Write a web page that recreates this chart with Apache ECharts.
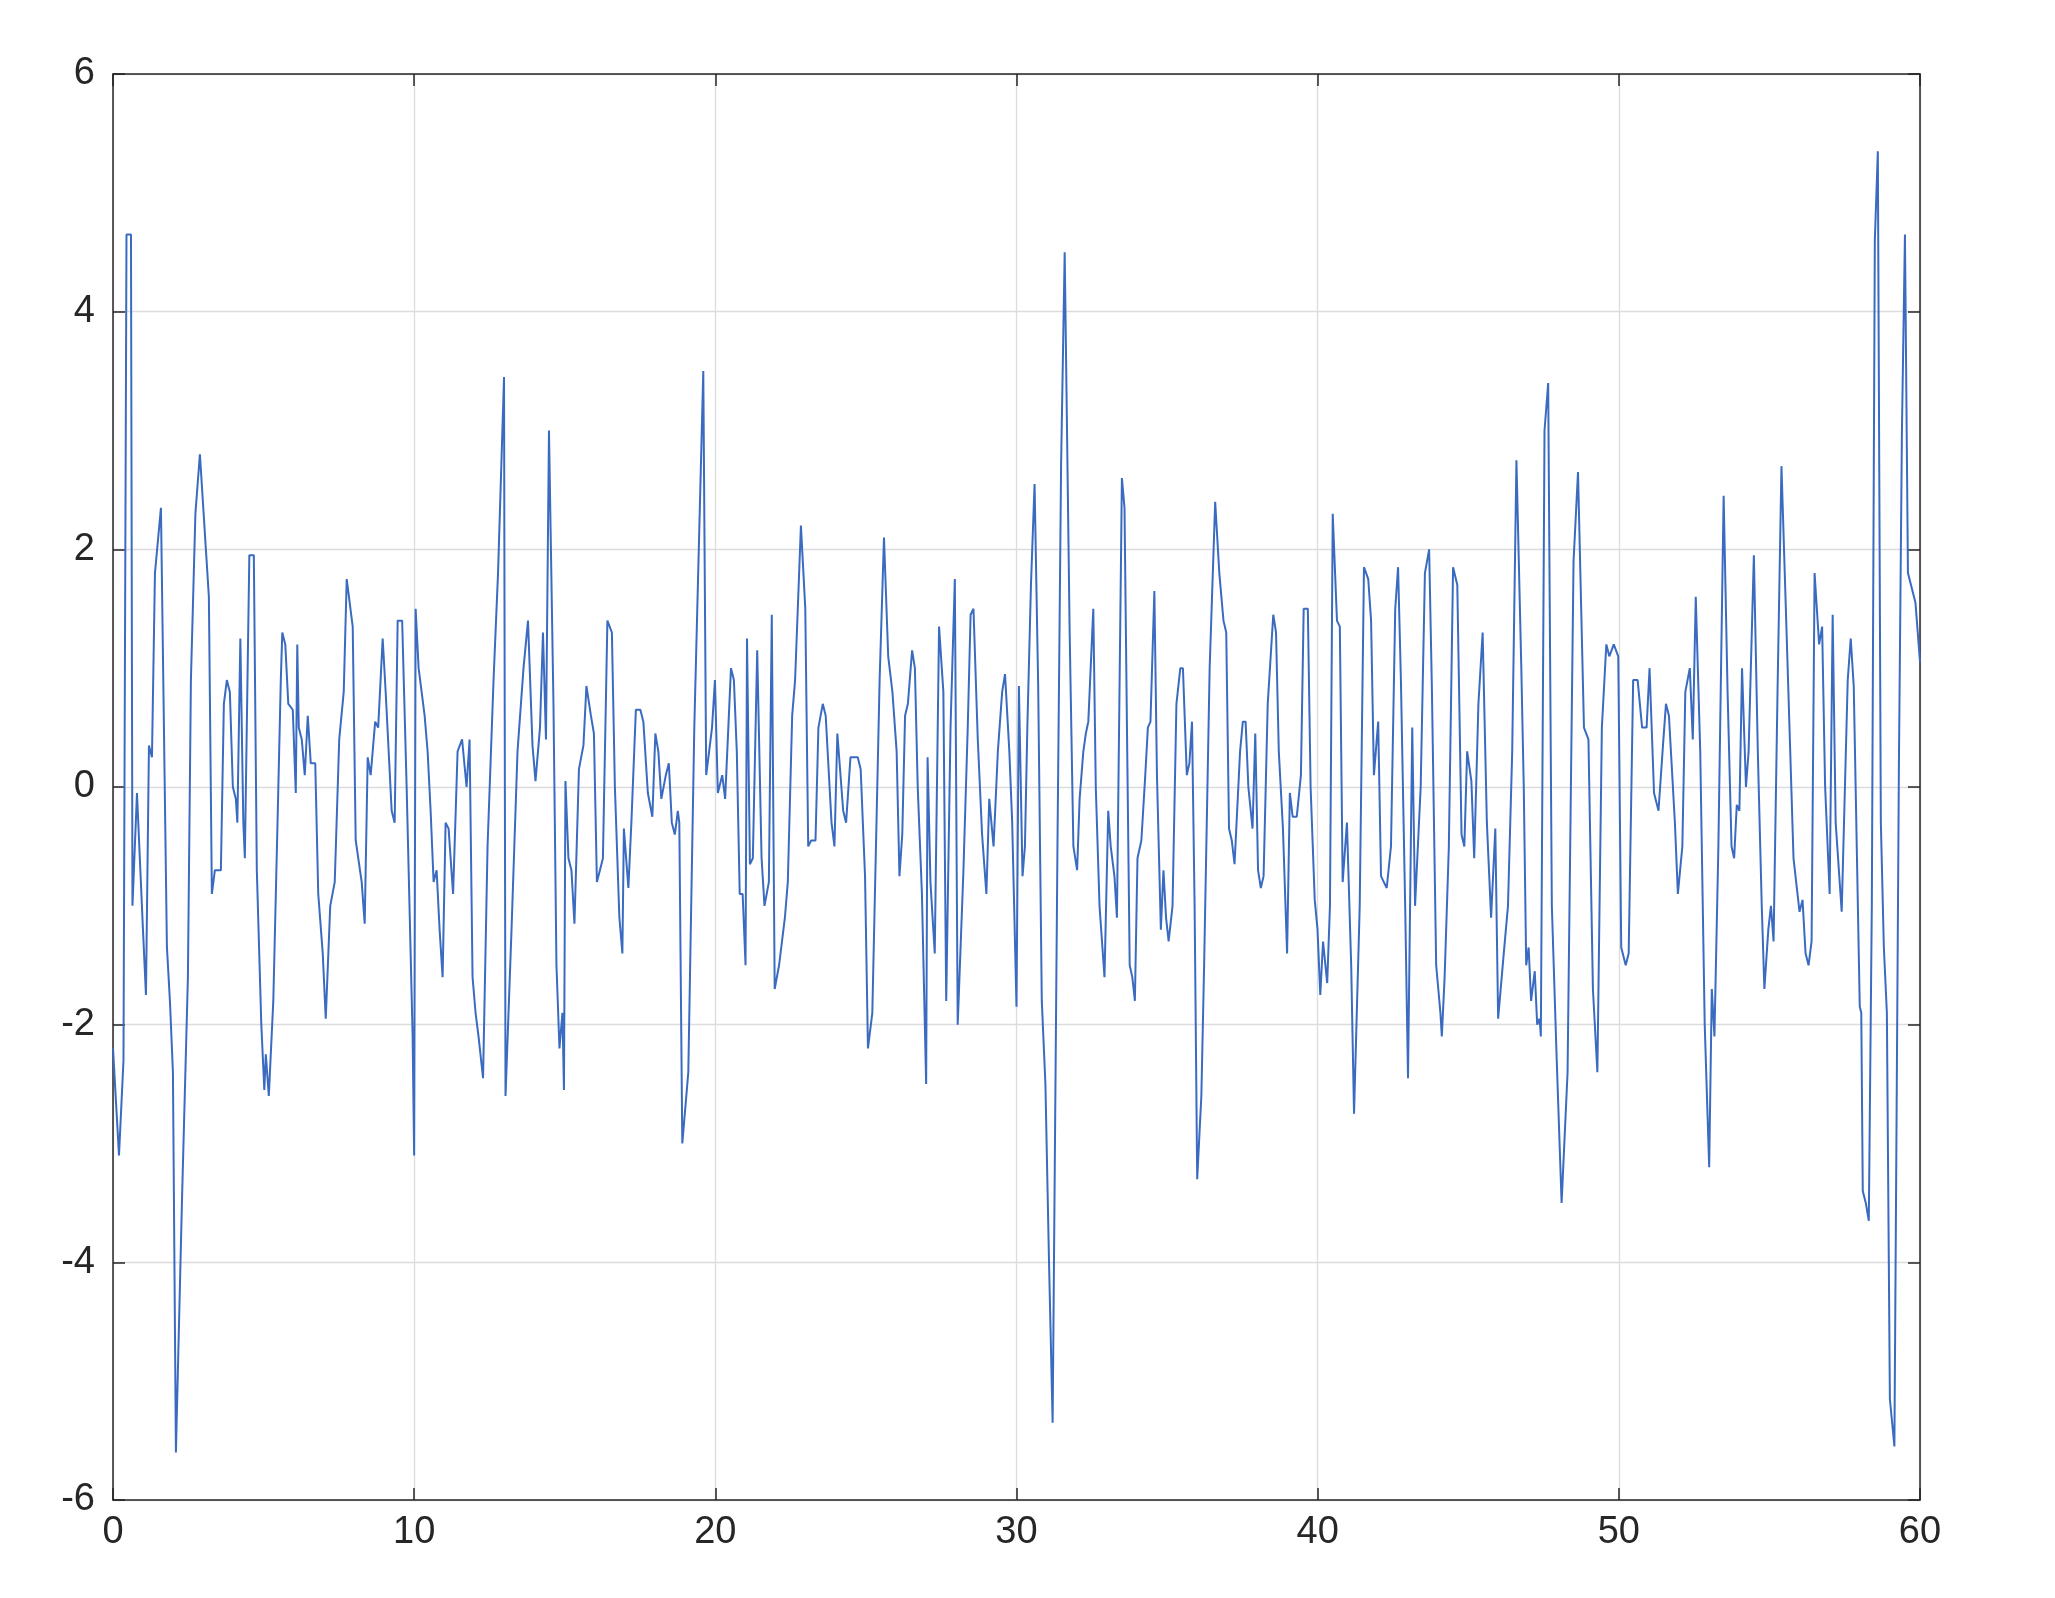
<!DOCTYPE html>
<html>
<head>
<meta charset="utf-8">
<script src="https://cdn.jsdelivr.net/npm/echarts@6/dist/echarts.min.js"></script>
<style>html,body{margin:0;padding:0;background:#fff}#chart{width:2055px;height:1598px}</style>
</head>
<body>
<div id="chart"></div>
<script>
// raw time readings (first pass, before axis calibration) and values
var rawTimes = [0,0.2,0.35,0.45,0.6,0.65,0.8,1.0,1.1,1.2,1.3,1.4,1.6,1.8,1.9,2.0,2.1,2.3,2.5,2.6,2.75,2.9,3.1,3.2,3.3,3.4,3.6,3.7,3.8,3.9,4.0,4.1,4.15,4.25,4.35,4.4,4.55,4.7,4.8,4.95,5.05,5.1,5.2,5.35,5.5,5.6,5.65,5.75,5.85,6.0,6.1,6.15,6.2,6.3,6.4,6.5,6.6,6.75,6.85,7.0,7.1,7.25,7.4,7.55,7.7,7.8,8.0,8.1,8.3,8.4,8.5,8.6,8.75,8.85,9.0,9.1,9.3,9.4,9.5,9.65,9.8,10.0,10.05,10.1,10.2,10.3,10.4,10.5,10.6,10.7,10.8,10.9,11.0,11.1,11.2,11.35,11.5,11.65,11.8,11.9,12.0,12.1,12.2,12.35,12.5,12.7,12.85,13.05,13.1,13.3,13.5,13.7,13.85,14.0,14.1,14.25,14.35,14.45,14.55,14.7,14.8,14.9,15.0,15.05,15.1,15.2,15.3,15.4,15.55,15.7,15.8,15.95,16.05,16.15,16.25,16.35,16.5,16.65,16.75,16.9,17.0,17.05,17.2,17.3,17.45,17.6,17.7,17.85,18.0,18.1,18.2,18.3,18.45,18.55,18.65,18.75,18.85,18.9,19.0,19.2,19.4,19.55,19.7,19.8,20.0,20.1,20.2,20.35,20.45,20.65,20.75,20.85,20.95,21.05,21.15,21.2,21.3,21.4,21.55,21.7,21.8,21.95,22.05,22.15,22.3,22.5,22.6,22.75,22.85,23.05,23.2,23.3,23.4,23.55,23.65,23.8,23.9,24.1,24.2,24.3,24.5,24.6,24.75,25.0,25.1,25.25,25.35,25.5,25.75,25.9,26.05,26.2,26.35,26.45,26.55,26.65,26.75,26.9,27.0,27.1,27.25,27.4,27.45,27.55,27.7,27.85,28.0,28.1,28.25,28.4,28.5,28.7,28.85,28.95,29.05,29.2,29.35,29.5,29.6,29.75,29.9,30.05,30.15,30.3,30.4,30.55,30.65,30.8,30.9,31.0,31.15,31.3,31.45,31.6,31.75,31.9,32.05,32.25,32.4,32.55,32.75,32.9,33.05,33.15,33.3,33.4,33.5,33.7,33.8,33.95,34.05,34.15,34.3,34.4,34.55,34.65,34.85,34.95,35.05,35.15,35.25,35.35,35.45,35.6,35.75,35.85,35.95,36.1,36.2,36.35,36.45,36.55,36.65,36.8,36.95,37.1,37.2,37.35,37.45,37.55,37.65,37.75,37.9,38.0,38.2,38.4,38.55,38.7,38.8,38.9,39.0,39.1,39.3,39.4,39.5,39.6,39.75,39.85,39.95,40.05,40.15,40.3,40.5,40.6,40.7,40.85,41.0,41.1,41.2,41.35,41.5,41.6,41.75,41.85,42.0,42.1,42.2,42.3,42.45,42.55,42.65,42.8,42.9,43.0,43.15,43.3,43.4,43.6,43.75,43.9,44.0,44.1,44.25,44.35,44.45,44.55,44.7,44.85,44.95,45.05,45.2,45.3,45.45,45.55,45.75,45.9,46.05,46.15,46.3,46.45,46.5,46.6,46.75,46.9,47.05,47.2,47.3,47.4,47.55,47.65,47.8,47.95,48.1,48.25,48.4,48.5,48.7,48.85,49.0,49.15,49.35,49.45,49.55,49.65,49.75,49.9,50.0,50.1,50.15,50.3,50.45,50.6,50.8,51.0,51.2,51.4,51.55,51.75,51.9,52.05,52.2,52.35,52.5,52.6,52.75,52.9,53.0,53.15,53.25,53.4,53.55,53.7,53.85,53.95,54.1,54.25,54.4,54.5,54.6,54.8,54.9,55.05,55.15,55.3,55.4,55.5,55.65,55.8,55.95,56.05,56.15,56.3,56.5,56.65,56.8,56.9,57.0,57.1,57.2,57.35,57.45,57.65,57.8,57.95,58.05,58.2,58.3,58.4,58.55,58.7];
var rawValues = [-2.2,-3.1,-2.3,4.65,4.65,-1.0,-0.05,-1.2,-1.75,0.35,0.25,1.8,2.35,-1.35,-1.8,-2.4,-5.6,-3.5,-1.6,0.9,2.3,2.8,2.0,1.6,-0.9,-0.7,-0.7,0.7,0.9,0.8,0.0,-0.1,-0.3,1.25,-0.3,-0.6,1.95,1.95,-0.7,-2.0,-2.55,-2.25,-2.6,-1.8,-0.2,0.9,1.3,1.2,0.7,0.65,-0.05,1.2,0.5,0.4,0.1,0.6,0.2,0.2,-0.9,-1.4,-1.95,-1.0,-0.8,0.4,0.8,1.75,1.35,-0.45,-0.8,-1.15,0.25,0.1,0.55,0.5,1.25,0.8,-0.2,-0.3,1.4,1.4,0.0,-2.1,-3.1,1.5,1.0,0.8,0.6,0.3,-0.2,-0.8,-0.7,-1.2,-1.6,-0.3,-0.35,-0.9,0.3,0.4,0.0,0.4,-1.6,-1.9,-2.1,-2.45,-0.5,0.9,1.8,3.45,-2.6,-1.2,0.3,1.0,1.4,0.35,0.05,0.5,1.3,0.4,3.0,0.7,-1.5,-2.2,-1.9,-2.55,0.05,-0.6,-0.7,-1.15,0.15,0.35,0.85,0.6,0.45,-0.8,-0.7,-0.6,1.4,1.3,0.0,-1.1,-1.4,-0.35,-0.85,-0.3,0.65,0.65,0.55,-0.05,-0.25,0.45,0.3,-0.1,0.1,0.2,-0.3,-0.4,-0.2,-0.3,-3.0,-2.4,0.5,2.0,3.5,0.1,0.5,0.9,-0.05,0.1,-0.1,1.0,0.9,0.3,-0.9,-0.9,-1.5,1.25,-0.65,-0.6,1.15,-0.6,-1.0,-0.8,1.45,-1.7,-1.5,-1.1,-0.8,0.6,0.9,2.2,1.5,-0.5,-0.45,-0.45,0.5,0.7,0.6,-0.3,-0.5,0.45,-0.2,-0.3,0.25,0.25,0.15,-0.75,-2.2,-1.9,0.9,2.1,1.1,0.8,0.3,-0.75,-0.4,0.6,0.7,1.15,1.0,0.0,-0.9,-2.5,0.25,-0.8,-1.4,1.35,0.8,-1.8,0.5,1.75,-2.0,-0.7,0.5,1.45,1.5,0.4,-0.4,-0.9,-0.1,-0.5,0.3,0.8,0.95,0.3,-0.3,-1.85,0.85,-0.75,-0.5,0.5,1.7,2.55,0.85,-1.8,-2.5,-4.0,-5.35,-0.5,2.7,4.5,1.3,-0.5,-0.7,-0.1,0.3,0.45,0.55,1.5,0.0,-1.0,-1.3,-1.6,-0.2,-0.5,-0.75,-1.1,2.6,2.35,0.4,-1.5,-1.6,-1.8,-0.6,-0.45,0.1,0.5,0.55,1.65,0.1,-1.2,-0.7,-1.1,-1.3,-1.0,0.7,1.0,1.0,0.1,0.2,0.55,-1.0,-3.3,-2.6,-1.5,1.0,2.4,1.8,1.4,1.3,-0.35,-0.45,-0.65,0.3,0.55,0.55,0.0,-0.35,0.45,-0.7,-0.85,-0.75,0.7,1.45,1.3,0.3,-0.35,-1.4,-0.05,-0.25,-0.25,0.1,1.5,1.5,0.0,-0.95,-1.2,-1.75,-1.3,-1.65,-1.0,2.3,1.4,1.35,-0.8,-0.3,-1.5,-2.75,-1.0,1.85,1.75,1.4,0.1,0.55,-0.75,-0.8,-0.85,-0.5,1.5,1.85,0.9,-1.0,-2.45,0.5,-1.0,0.0,1.8,2.0,0.8,-1.5,-1.9,-2.1,-1.6,-0.5,1.85,1.7,-0.4,-0.5,0.3,0.05,-0.6,0.7,1.3,-0.3,-1.1,-0.35,-1.95,-1.4,-1.0,0.3,2.75,1.0,0.0,-1.5,-1.35,-1.8,-1.55,-2.0,-1.95,-2.1,3.0,3.4,-1.0,-2.3,-3.5,-2.4,1.9,2.65,0.5,0.4,-1.7,-2.4,0.5,1.2,1.1,1.2,1.1,-1.35,-1.5,-1.4,0.9,0.9,0.5,0.5,1.0,-0.05,-0.2,0.35,0.7,0.6,-0.3,-0.9,-0.5,0.8,1.0,0.4,1.6,0.3,-2.0,-3.2,-1.7,-2.1,-0.5,2.45,0.8,-0.5,-0.6,-0.15,-0.2,1.0,0.0,0.3,1.95,0.3,-1.0,-1.7,-1.2,-1.0,-1.3,0.8,2.7];
// calibration of raw readings against the picture's x ticks/features
var calibRaw  = [0,19.7,25.9,27.4,30.55,32.05,32.55,34.85,37.75,42.65,45.3,49.15,51.0,55.95,58.7];
var calibTrue = [0,19.6,25.6,27.0,30.0,31.2,31.6,33.5,36.0,40.5,43.0,46.6,48.1,53.0,55.4];
// tail read directly in axis units
var tailTimes  = [55.8,56.0,56.1,56.2,56.3,56.4,56.5,56.65,56.75,56.85,57.0,57.1,57.2,57.4,57.6,57.7,57.8,58.0,58.05,58.1,58.2,58.3,58.4,58.5,58.6,58.7,58.8,58.9,59.0,59.15,59.3,59.4,59.5,59.6,59.85,60];
var tailValues = [-0.6,-1.05,-0.95,-1.4,-1.5,-1.3,1.8,1.2,1.35,0.0,-0.9,1.45,-0.3,-1.05,0.9,1.25,0.85,-1.85,-1.9,-3.4,-3.5,-3.65,-1.0,4.6,5.35,-0.3,-1.35,-1.9,-5.15,-5.55,0.2,3.0,4.65,1.8,1.55,1.05];

function calib(t){
  for (var i = 1; i < calibRaw.length; i++) {
    if (t <= calibRaw[i]) {
      var f = (t - calibRaw[i-1]) / (calibRaw[i] - calibRaw[i-1]);
      return calibTrue[i-1] + f * (calibTrue[i] - calibTrue[i-1]);
    }
  }
  return calibTrue[calibTrue.length-1];
}
var data = rawTimes.map(function(t, i){ return [calib(t), rawValues[i]]; });
tailTimes.forEach(function(t, i){ data.push([t, tailValues[i]]); });

var font = 'Helvetica, "Liberation Sans", Arial, sans-serif';
var chart = echarts.init(document.getElementById('chart'));
var tickStyle = { show: true, inside: true, length: 12, lineStyle: { color: '#262626', width: 1.5 } };
var lineStyle = { show: true, onZero: false, lineStyle: { color: '#262626', width: 1.5 } };
var labelStyle = { fontSize: 38, color: '#262626', fontFamily: font };
chart.setOption({
  animation: false,
  backgroundColor: '#fff',
  grid: { left: 113, right: 135, top: 74, bottom: 98, outerBoundsMode: 'none', containLabel: false },
  xAxis: [
    { type: 'value', min: 0, max: 60, interval: 10, axisLine: lineStyle, axisTick: tickStyle,
      axisLabel: Object.assign({ margin: 14 }, labelStyle),
      splitLine: { show: true, lineStyle: { color: '#dcdcdc', width: 1.3 } } },
    { type: 'value', position: 'top', min: 0, max: 60, interval: 10, axisLine: lineStyle, axisTick: tickStyle,
      axisLabel: { show: false }, splitLine: { show: false } }
  ],
  yAxis: [
    { type: 'value', min: -6, max: 6, interval: 2, axisLine: lineStyle, axisTick: tickStyle,
      axisLabel: Object.assign({ margin: 18 }, labelStyle),
      splitLine: { show: true, lineStyle: { color: '#dcdcdc', width: 1.3 } } },
    { type: 'value', position: 'right', min: -6, max: 6, interval: 2, axisLine: lineStyle, axisTick: tickStyle,
      axisLabel: { show: false }, splitLine: { show: false } }
  ],
  series: [{
    type: 'line', data: data, showSymbol: false,
    lineStyle: { color: '#3a6bc0', width: 2 }
  }]
});
</script>
</body>
</html>
